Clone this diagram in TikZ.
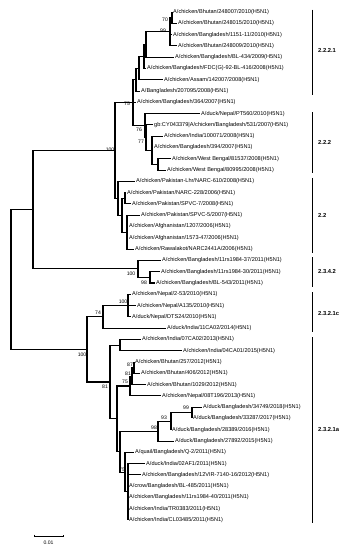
\documentclass[tikz,border=0pt]{standalone}
\usepackage{fontspec}
\setmainfont{Liberation Sans}
\tikzset{
  leaf/.style={anchor=west, inner xsep=1pt, inner ysep=0pt, font=\fontsize{5.6}{6}\selectfont},
  bs/.style={inner sep=0pt, font=\fontsize{5.1}{6}\selectfont},
  edge/.style={line width=1.05pt},
  clade/.style={anchor=west, inner sep=0pt, font=\bfseries\fontsize{5.8}{7}\selectfont},
  bar/.style={line width=1pt}
}
\begin{document}
\begin{tikzpicture}[x=1pt, y=-11.29pt]
\useasboundingbox (0,-0.063) rectangle (351,48.65);
% leaves
\node[leaf] (l1) at (172,1) {A/chicken/Bhutan/248007/2010(H5N1)};
\node[leaf] (l2) at (177,2) {A/chicken/Bhutan/248015/2010(H5N1)};
\node[leaf] (l3) at (172,3) {A/chicken/Bangladesh/1151-11/2010(H5N1)};
\node[leaf] (l4) at (177,4) {A/chicken/Bhutan/248009/2010(H5N1)};
\node[leaf] (l5) at (174,5) {A/chicken/Bangladesh/BL-434/2009(H5N1)};
\node[leaf] (l6) at (146,6) {A/chicken/Bangladesh/FDC(G)-92-BL-416/2008(H5N1)};
\node[leaf] (l7) at (163,7) {A/chicken/Assam/142007/2008(H5N1)};
\node[leaf] (l8) at (140,8) {A/Bangladesh/207095/2008(H5N1)};
\node[leaf] (l9) at (136,9) {A/chicken/Bangladesh/364/2007(H5N1)};
\node[leaf] (l10) at (200,10) {A/duck/Nepal/PT560/2010(H5N1)};
\node[leaf] (l11) at (153,11) {gb:CY043379|A/chicken/Bangladesh/531/2007(H5N1)};
\node[leaf] (l12) at (163,12) {A/chicken/India/100071/2008(H5N1)};
\node[leaf] (l13) at (153,13) {A/chicken/Bangladesh/394/2007(H5N1)};
\node[leaf] (l14) at (171,14) {A/chicken/West Bengal/81537/2008(H5N1)};
\node[leaf] (l15) at (166,15) {A/chicken/West Bengal/80995/2008(H5N1)};
\node[leaf] (l16) at (135,16) {A/chicken/Pakistan-Lhr/NARC-610/2008(H5N1)};
\node[leaf] (l17) at (126,17) {A/chicken/Pakistan/NARC-228/2006(H5N1)};
\node[leaf] (l18) at (131,18) {A/chicken/Pakistan/SPVC-7/2008(H5N1)};
\node[leaf] (l19) at (140,19) {A/chicken/Pakistan/SPVC-5/2007(H5N1)};
\node[leaf] (l20) at (128,20) {A/chicken/Afghanistan/1207/2006(H5N1)};
\node[leaf] (l21) at (128,21) {A/chicken/Afghanistan/1573-47/2006(H5N1)};
\node[leaf] (l22) at (134,22) {A/chicken/Rawalakot/NARC2441A/2006(H5N1)};
\node[leaf] (l23) at (161,23) {A/chicken/Bangladesh/11rs1984-37/2011(H5N1)};
\node[leaf] (l24) at (160,24) {A/chicken/Bangladesh/11rs1984-30/2011(H5N1)};
\node[leaf] (l25) at (155,25) {A/chicken/Bangladesh/BL-543/2011(H5N1)};
\node[leaf] (l26) at (131,26) {A/chicken/Nepal/2-53/2010(H5N1)};
\node[leaf] (l27) at (136,27) {A/chicken/Nepal/A135/2010(H5N1)};
\node[leaf] (l28) at (131,28) {A/duck/Nepal/DTS24/2010(H5N1)};
\node[leaf] (l29) at (166,29) {A/duck/India/11CA02/2014(H5N1)};
\node[leaf] (l30) at (141,30) {A/chicken/India/07CA02/2013(H5N1)};
\node[leaf] (l31) at (182,31) {A/chicken/India/04CA01/2015(H5N1)};
\node[leaf] (l32) at (134,32) {A/chicken/Bhutan/257/2012(H5N1)};
\node[leaf] (l33) at (140,33) {A/chicken/Bhutan/406/2012(H5N1)};
\node[leaf] (l34) at (146,34) {A/chicken/Bhutan/1029/2012(H5N1)};
\node[leaf] (l35) at (161,35) {A/chicken/Nepal/08T196/2013(H5N1)};
\node[leaf] (l36) at (202,36) {A/duck/Bangladesh/34749/2018(H5N1)};
\node[leaf] (l37) at (192,37) {A/duck/Bangladesh/33287/2017(H5N1)};
\node[leaf] (l38) at (171,38) {A/duck/Bangladesh/28389/2016(H5N1)};
\node[leaf] (l39) at (174,39) {A/duck/Bangladesh/27892/2015(H5N1)};
\node[leaf] (l40) at (134,40) {A/quail/Bangladesh/Q-2/2011(H5N1)};
\node[leaf] (l41) at (145,41) {A/duck/India/02AF1/2011(H5N1)};
\node[leaf] (l42) at (141,42) {A/chicken/Bangladesh/12VIR-7140-16/2012(H5N1)};
\node[leaf] (l43) at (128,43) {A/crow/Bangladesh/BL-485/2011(H5N1)};
\node[leaf] (l44) at (128,44) {A/chicken/Bangladesh/11rs1984-40/2011(H5N1)};
\node[leaf] (l45) at (128,45) {A/chicken/India/TR0383/2011(H5N1)};
\node[leaf] (l46) at (128,46) {A/chicken/India/CL03485/2011(H5N1)};
% internal nodes
\coordinate (n70) at (172,1.5);
\coordinate (n99) at (170,2.75);
\coordinate (na) at (146,3.875);
\coordinate (nb) at (144,4.94);
\coordinate (nc) at (139,5.97);
\coordinate (nd) at (136,6.98);
\coordinate (nS) at (158,14.5);
\coordinate (nR) at (152,13.25);
\coordinate (n77) at (146,12.125);
\coordinate (n76) at (145,11.06);
\coordinate (n75) at (133,9.02);
\coordinate (n127) at (127,20.5);
\coordinate (n125) at (125,17.5);
\coordinate (n122) at (122,19);
\coordinate (n118) at (118,17.5);
\coordinate (n100a) at (115,13.26);
\coordinate (n98a) at (150,24.5);
\coordinate (n100b) at (138,23.75);
\coordinate (n33) at (33,18.5);
\coordinate (n100c) at (128,27);
\coordinate (n74) at (103,28);
\coordinate (n120) at (120,30.5);
\coordinate (n87) at (134,32.5);
\coordinate (n81) at (132,33.25);
\coordinate (n75b) at (130,34.125);
\coordinate (n99b) at (192,36.5);
\coordinate (n93) at (171,37.25);
\coordinate (n98b) at (158,38.125);
\coordinate (n75c) at (128,43.5);
\coordinate (nY) at (125,41.75);
\coordinate (nX) at (120,39.94);
\coordinate (n117) at (117,37.03);
\coordinate (n110) at (110,33.77);
\coordinate (n100d) at (87,30.88);
\coordinate (root) at (11,24.69);
% edges
\foreach \p/\c in {n70/l1, n70/l2, n99/n70, n99/l3, n99/l4, na/n99, na/l5, nb/na, nb/l6,
  nc/nb, nc/l7, nd/nc, nd/l8, n75/nd, n75/l9, n75/n76, n76/l10, n76/n77, n77/l11, n77/nR,
  nR/l12, nR/l13, nR/nS, nS/l14, nS/l15, n100a/n75, n100a/n118, n118/l16, n118/n122,
  n122/n125, n122/n127, n125/l17, n125/l18, n127/l19, n127/l20, n127/l21, n127/l22,
  n33/n100a, n33/n100b, n100b/l23, n100b/n98a, n98a/l24, n98a/l25, root/n33, root/n100d,
  n100d/n74, n100d/n110, n74/n100c, n74/l29, n100c/l26, n100c/l27, n100c/l28,
  n110/n120, n110/n117, n120/l30, n120/l31, n117/n75b, n117/nX, n75b/n81, n75b/l35,
  n81/n87, n81/l34, n87/l32, n87/l33, nX/n98b, nX/nY, n98b/n93, n98b/l39, n93/n99b,
  n93/l38, n99b/l36, n99b/l37, nY/l40, nY/n75c, n75c/l41, n75c/l42, n75c/l43, n75c/l44,
  n75c/l45, n75c/l46}
  \draw[edge] (\p) |- (\c);
% bootstrap values
\node[bs] (b1) at (165,1.71) {70};
\node[bs] (b2) at (163,2.68) {99};
\node[bs] (b3) at (127,9.15) {75};
\node[bs] (b4) at (110,13.22) {100};
\node[bs] (b5) at (139,11.45) {76};
\node[bs] (b6) at (141,12.51) {77};
\node[bs] (b7) at (131,24.2) {100};
\node[bs] (b8) at (144,25.0) {98};
\node[bs] (b9) at (123,26.7) {100};
\node[bs] (b10) at (98,27.66) {74};
\node[bs] (b11) at (82,31.38) {100};
\node[bs] (b12) at (130,32.2) {87};
\node[bs] (b13) at (128,33.0) {81};
\node[bs] (b14) at (125,33.77) {75};
\node[bs] (b15) at (105,34.2) {81};
\node[bs] (b16) at (164,36.9) {93};
\node[bs] (b17) at (154,37.85) {98};
\node[bs] (b18) at (186,36.08) {99};
\node[bs] (b19) at (122,41.57) {75};
% clade bars
\draw[bar] (312,0.8) -- (312,8.35);
\node[clade] (c1) at (318,4.37) {2.2.2.1};
\draw[bar] (312,9.86) -- (312,15.26);
\node[clade] (c2) at (318,12.6) {2.2.2};
\draw[bar] (312,15.7) -- (312,22.35);
\node[clade] (c3) at (318,18.98) {2.2};
\draw[bar] (312,22.7) -- (312,25.36);
\node[clade] (c4) at (318,23.94) {2.3.4.2};
\draw[bar] (312,25.8) -- (312,29.34);
\node[clade] (c5) at (318,27.66) {2.3.2.1c};
\draw[bar] (312,29.79) -- (312,46.26);
\node[clade] (c6) at (318,38.02) {2.3.2.1a};
% scale bar
\draw[line width=0.6pt] (34,47.28) -- (34,47.41) -- (63,47.41) -- (63,47.28);
\node[bs] (sc) at (48.5,48.05) {0.01};
\end{tikzpicture}
\end{document}
